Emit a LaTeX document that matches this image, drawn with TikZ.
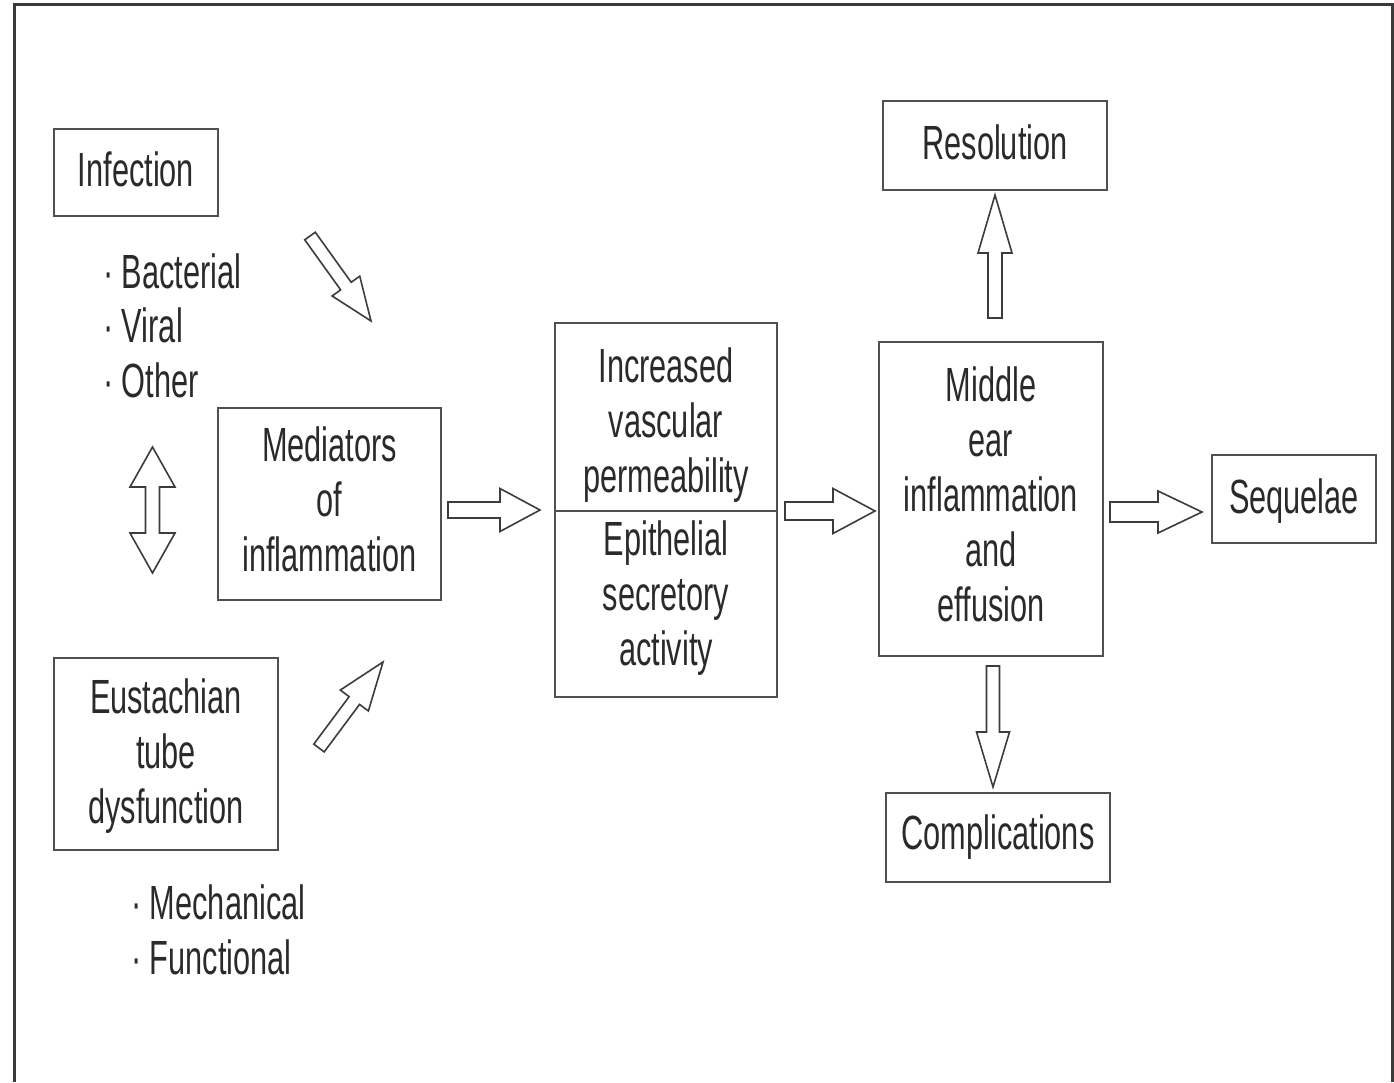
\documentclass[tikz,border=0pt]{standalone}
\usepackage{fontspec}
\setmainfont{Liberation Sans}[FakeStretch=0.64]
\usetikzlibrary{calc}
\definecolor{boxgray}{HTML}{505050}
\definecolor{arrowgray}{HTML}{3C3C3C}
\definecolor{inkgray}{HTML}{2A2A2A}
\definecolor{framegray}{HTML}{3A3A3A}
\newcommand{\diafont}{\fontsize{48}{55}\selectfont}

% hollow block arrow: #1 tail, #2 tip, #3 half shaft width, #4 half head width, #5 head length
\newcommand{\blockarrow}[5]{%
  \path ($(#2)!#5!(#1)$) coordinate (hb);
  \draw[hollow] ($(#1)!#3!90:(#2)$) -- ($(hb)!#3!90:(#2)$) -- ($(hb)!#4!90:(#2)$)
    -- (#2) -- ($(hb)!#4!-90:(#2)$) -- ($(hb)!#3!-90:(#2)$) -- ($(#1)!#3!-90:(#2)$) -- cycle;}

% hollow double-headed block arrow between two tips
\newcommand{\doubleblockarrow}[5]{%
  \path ($(#1)!#5!(#2)$) coordinate (ha) ($(#2)!#5!(#1)$) coordinate (hz);
  \draw[hollow] (#1) -- ($(ha)!#4!90:(#2)$) -- ($(ha)!#3!90:(#2)$) -- ($(hz)!#3!-90:(#1)$)
    -- ($(hz)!#4!-90:(#1)$) -- (#2) -- ($(hz)!#4!90:(#1)$) -- ($(hz)!#3!90:(#1)$)
    -- ($(ha)!#3!-90:(#2)$) -- ($(ha)!#4!-90:(#2)$) -- cycle;}

\begin{document}
\begin{tikzpicture}[x=1pt,y=-1pt,
  box/.style={draw=boxgray, line width=2.5pt, inner sep=0pt},
  boxtext/.style={align=center, inner sep=0pt, text=inkgray, font=\diafont},
  listitem/.style={anchor=base west, inner sep=0pt, text=inkgray, font=\diafont},
  hollow/.style={draw=arrowgray, line width=1.6pt, line join=miter, fill=white},
  frame/.style={draw=framegray, line width=3pt}]
\useasboundingbox (0,0) rectangle (1394,1082);

% outer frame
\draw[frame] (14,1082) -- (14,4) -- (1392,4) -- (1392,1082);

% boxes, each with its caption set on the centre
\node[box, minimum width=164pt, minimum height=87pt,
  label={[boxtext, yshift=3pt]center:Infection}] (inf) at (136,172.5) {};
\node[box, minimum width=223pt, minimum height=192pt,
  label={[boxtext, yshift=5pt]center:{Mediators\\of\\inflammation}}] (med) at (329.5,504) {};
\node[box, minimum width=224pt, minimum height=192pt,
  label={[boxtext, yshift=-2pt]center:{Eustachian\\tube\\dysfunction}}] (eus) at (166,754) {};
\node[box, minimum width=222pt, minimum height=188pt,
  label={[boxtext, yshift=-8pt]center:{Increased\\vascular\\permeability}}] (perm) at (666,417) {};
\node[box, minimum width=222pt, minimum height=186pt,
  label={[boxtext, yshift=6pt]center:{Epithelial\\secretory\\activity}}] (secr) at (666,604) {};
\node[box, minimum width=224pt, minimum height=314pt,
  label={[boxtext, yshift=4.5pt]center:{Middle\\ear\\inflammation\\and\\effusion}}] (mid) at (991,499) {};
\node[box, minimum width=224pt, minimum height=89pt,
  label={[boxtext, yshift=3pt]center:Resolution}] (res) at (995,145.5) {};
\node[box, minimum width=224pt, minimum height=89pt,
  label={[boxtext]center:Complications}] (com) at (998,837.5) {};
\node[box, minimum width=164pt, minimum height=88pt,
  label={[boxtext, yshift=-2pt]center:Sequelae}] (seq) at (1294,499) {};

% cause lists
\node[listitem] (bac) at (103,288) {· Bacterial};
\node[listitem] (vir) at (103,342) {· Viral};
\node[listitem] (oth) at (103,397) {· Other};
\node[listitem] (mech) at (131,919) {· Mechanical};
\node[listitem] (func) at (131,974) {· Functional};

% arrow end points
\coordinate (infout) at (310,236);
\coordinate (medin1) at (371,321);
\coordinate (eusout) at (319,748);
\coordinate (medin2) at (383,662);
\coordinate (medout) at (448,510);
\coordinate (cenin) at (540,510);
\coordinate (cenout) at (785,511);
\coordinate (midin) at (875,511);
\coordinate (midout) at (1110,512);
\coordinate (seqin) at (1202,512);
\coordinate (upout) at (995,318);
\coordinate (resin) at (995,195);
\coordinate (downout) at (993,666);
\coordinate (comin) at (993,787);
\coordinate (linktop) at (152.5,447);
\coordinate (linkbot) at (152.5,573);

% block arrows
\blockarrow{infout}{medin1}{6.5pt}{17pt}{43pt}
\blockarrow{eusout}{medin2}{6.5pt}{17.5pt}{48pt}
\blockarrow{medout}{cenin}{8pt}{21.5pt}{40pt}
\blockarrow{cenout}{midin}{9pt}{22.5pt}{42pt}
\blockarrow{midout}{seqin}{10pt}{21pt}{44pt}
\blockarrow{upout}{resin}{7pt}{17pt}{58pt}
\blockarrow{downout}{comin}{6.5pt}{16.5pt}{55pt}
\doubleblockarrow{linktop}{linkbot}{7pt}{22.5pt}{40pt}
\end{tikzpicture}
\end{document}
